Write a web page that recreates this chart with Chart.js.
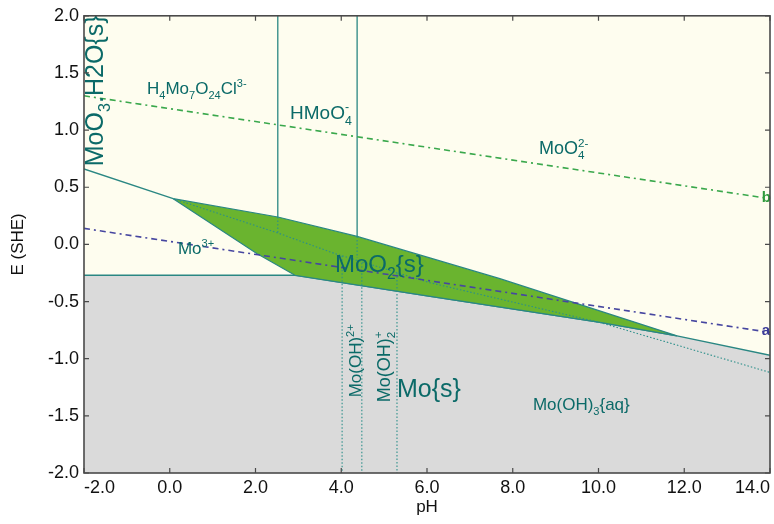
<!DOCTYPE html>
<html>
<head>
<meta charset="utf-8">
<script src="https://cdn.jsdelivr.net/npm/chart.js@4.4.1/dist/chart.umd.min.js"></script>
<style>
  html, body { margin: 0; padding: 0; background: #ffffff; }
  #wrap { width: 774px; height: 524px; }
</style>
</head>
<body>
<div id="wrap"><canvas id="c" width="774" height="524"></canvas></div>
<script>
// ---------- data (pH, E in volts vs SHE) ----------
const xTicks = [-2, 0, 2, 4, 6, 8, 10, 12, 14];
const yTicks = [-2, -1.5, -1, -0.5, 0, 0.5, 1, 1.5, 2];

// Mo{s} region boundary (grey below)
const moSolidPH = [-2.0, 2.92, 6.0, 10.0, 11.83, 14.0];
const moSolidE  = [-0.27, -0.27, -0.45, -0.68, -0.80, -0.97];

// MoO2{s} region (green polygon) upper and lower edges
const moo2UpperPH = [0.08, 2.52, 4.37, 7.70, 11.83];
const moo2UpperE  = [0.40, 0.24, 0.07, -0.30, -0.80];
const moo2LowerPH = [0.08, 2.03, 2.92, 6.0, 10.0, 11.83];
const moo2LowerE  = [0.40, -0.08, -0.27, -0.45, -0.68, -0.80];

// MoO3.H2O{s} / Mo3+ boundary
const leftBoundPH = [-2.0, 0.08];
const leftBoundE  = [0.66, 0.40];

// vertical solid boundaries (H4Mo7O24Cl3- / HMoO4- / MoO4 2-)
const vert1PH = [2.52, 2.52];  const vert1E = [2.0, 0.24];
const vert2PH = [4.37, 4.37];  const vert2E = [2.0, 0.07];

// dotted metastable boundaries
const dotDiagPH = [0.08, 2.52, 3.85, 6.07, 10.04, 14.0];
const dotDiagE  = [0.40, 0.10, -0.08, -0.335, -0.684, -1.12];
const dotV0PH = [2.52, 2.52]; const dotV0E = [0.24, 0.10];
const dotV1PH = [4.37, 4.37]; const dotV1E = [0.07, -0.12];
const dotV2PH = [4.02, 4.02]; const dotV2E = [-0.10, -2.0];
const dotV3PH = [4.48, 4.48]; const dotV3E = [-0.16, -2.0];
const dotV4PH = [5.30, 5.30]; const dotV4E = [-0.25, -2.0];

// water stability lines
const lineBPH = [-2.0, 14.0]; const lineBE = [1.30, 0.40];
const lineAPH = [-2.0, 14.0]; const lineAE = [0.14, -0.77];

// text labels (markup: _{sub} ^{sup})
const labelTexts = [
  'H_{4}Mo_{7}O_{24}Cl^{3-}', 'HMoO_{4}^{-}', 'MoO_{4}^{2-}', 'Mo^{3+}',
  'MoO_{2}{s}', 'Mo{s}', 'Mo(OH)_{3}{aq}', 'Mo(OH)^{2+}', 'Mo(OH)_{2}^{+}',
  'MoO_{3}.H2O{s}', 'b', 'a'
];
const labelPH = [-0.53, 2.805, 8.61, 0.19, 3.854, 5.30, 8.47, 4.46, 5.137, -1.557, 13.81, 13.81];
const labelE  = [1.312, 1.094, 0.789, -0.083, -0.24, -1.338, -1.451, -1.338, -1.381, 0.684, 0.37, -0.797];

// ---------- styling ----------
const TEAL = '#2a8783';
const TEXT_TEAL = '#0b6a68';
const GREEN_FILL = '#6ab42f';
const GREY_FILL = '#dadada';
const CREAM = '#fefdef';
const FAM = '"Liberation Sans", Arial, sans-serif';
const labelStyle = [
  {size:17}, {size:19}, {size:18}, {size:17},
  {size:24}, {size:25}, {size:17}, {size:17, rot:true}, {size:18, rot:true},
  {size:25, rot:true}, {size:15, bold:true, color:'#2f9a3c'}, {size:15, bold:true, color:'#3a3a98'}
];

const zip = (xs, ys) => xs.map((x, i) => ({x: x, y: ys[i]}));

function parseRich(s) {
  const out = []; let i = 0; let buf = '';
  while (i < s.length) {
    const c = s[i];
    if ((c === '_' || c === '^') && s[i + 1] === '{') {
      if (buf) { out.push({t: buf, m: 'n'}); buf = ''; }
      const j = s.indexOf('}', i + 2);
      out.push({t: s.slice(i + 2, j), m: c === '_' ? 'b' : 'p'});
      i = j + 1;
    } else { buf += c; i++; }
  }
  if (buf) out.push({t: buf, m: 'n'});
  return out;
}

function drawRich(ctx, s, x, y, st) {
  const size = st.size;
  const w8 = st.bold ? 'bold ' : '';
  const small = size * 0.65;
  ctx.save();
  ctx.translate(x, y);
  if (st.rot) ctx.rotate(-Math.PI / 2);
  ctx.fillStyle = st.color || TEXT_TEAL;
  ctx.textAlign = 'left';
  ctx.textBaseline = 'alphabetic';
  const segs = parseRich(s);
  let cx = 0;
  for (let k = 0; k < segs.length; k++) {
    const sg = segs[k];
    if (sg.m === 'n') {
      ctx.font = w8 + size + 'px ' + FAM;
      ctx.fillText(sg.t, cx, 0);
      cx += ctx.measureText(sg.t).width;
    } else {
      ctx.font = w8 + small + 'px ' + FAM;
      const off = sg.m === 'b' ? size * 0.28 : -size * 0.42;
      ctx.fillText(sg.t, cx, off);
      let w = ctx.measureText(sg.t).width;
      const nx = segs[k + 1];
      if (sg.m === 'b' && nx && nx.m === 'p') {
        ctx.fillText(nx.t, cx, -size * 0.42);
        w = Math.max(w, ctx.measureText(nx.t).width);
        k++;
      }
      cx += w;
    }
  }
  ctx.restore();
}

const bgPlugin = {
  id: 'bg',
  beforeDatasetsDraw(chart) {
    const {ctx, chartArea: a} = chart;
    ctx.save();
    ctx.fillStyle = CREAM;
    ctx.fillRect(a.left, a.top, a.right - a.left, a.bottom - a.top);
    ctx.restore();
  }
};

const framePlugin = {
  id: 'frame',
  afterDatasetsDraw(chart) {
    const {ctx, chartArea: a, scales} = chart;
    labelTexts.forEach((t, i) => {
      drawRich(ctx, t, scales.x.getPixelForValue(labelPH[i]), scales.y.getPixelForValue(labelE[i]), labelStyle[i]);
    });
    ctx.save();
    ctx.strokeStyle = '#4a4a4a';
    ctx.lineWidth = 1.6;
    ctx.strokeRect(a.left, a.top, a.right - a.left, a.bottom - a.top);
    ctx.lineWidth = 1.2;
    ctx.beginPath();
    const L = 5;
    xTicks.forEach(v => {
      const px = scales.x.getPixelForValue(v);
      ctx.moveTo(px, a.bottom); ctx.lineTo(px, a.bottom - L);
      ctx.moveTo(px, a.top); ctx.lineTo(px, a.top + L);
    });
    yTicks.forEach(v => {
      const py = scales.y.getPixelForValue(v);
      ctx.moveTo(a.left, py); ctx.lineTo(a.left + L, py);
      ctx.moveTo(a.right, py); ctx.lineTo(a.right - L, py);
    });
    ctx.stroke();
    ctx.restore();
  }
};

const base = {showLine: true, pointRadius: 0, pointHoverRadius: 0, fill: false, tension: 0};
const solid = (xs, ys, ord) => Object.assign({}, base, {data: zip(xs, ys), borderColor: TEAL, borderWidth: 1.3, order: ord});
const dotted = (xs, ys) => Object.assign({}, base, {data: zip(xs, ys), borderColor: '#2b8f8a', borderWidth: 1.1, borderDash: [1.5, 2], order: 3});

const datasets = [
  Object.assign({}, base, {data: zip(moSolidPH, moSolidE), borderColor: TEAL, borderWidth: 1.3,
    fill: 'start', backgroundColor: GREY_FILL, order: 20}),
  Object.assign({}, base, {data: zip(moo2UpperPH.concat(moo2LowerPH.slice().reverse()), moo2UpperE.concat(moo2LowerE.slice().reverse())),
    borderColor: TEAL, borderWidth: 1.2, fill: 'shape', backgroundColor: GREEN_FILL, order: 19}),
  solid(leftBoundPH, leftBoundE, 5),
  solid(vert1PH, vert1E, 5),
  solid(vert2PH, vert2E, 5),
  dotted(dotDiagPH, dotDiagE),
  dotted(dotV0PH, dotV0E),
  dotted(dotV1PH, dotV1E),
  dotted(dotV2PH, dotV2E),
  dotted(dotV3PH, dotV3E),
  dotted(dotV4PH, dotV4E),
  Object.assign({}, base, {data: zip(lineBPH, lineBE), borderColor: '#3aa84c', borderWidth: 1.6, borderDash: [6, 4, 2, 4, 6, 4], order: 1}),
  Object.assign({}, base, {data: zip(lineAPH, lineAE), borderColor: '#4646a0', borderWidth: 1.6, borderDash: [6, 4, 2, 4, 6, 4], order: 1})
];

const tickFont = {family: FAM, size: 18};

new Chart(document.getElementById('c'), {
  type: 'scatter',
  data: {datasets: datasets},
  plugins: [bgPlugin, framePlugin],
  options: {
    responsive: false,
    animation: false,
    events: [],
    layout: {padding: {top: 14, right: 4, left: 0, bottom: 0}},
    plugins: {legend: {display: false}, tooltip: {enabled: false}},
    scales: {
      x: {
        type: 'linear', min: -2, max: 14,
        afterBuildTicks: s => { s.ticks = xTicks.map(v => ({value: v})); },
        ticks: {color: '#111', font: tickFont, padding: 4, maxRotation: 0, autoSkip: false, align: 'inner',
          callback: v => v.toFixed(1)},
        grid: {display: false, drawTicks: false},
        border: {display: false},
        title: {display: true, text: 'pH', color: '#111', font: {family: FAM, size: 17}, padding: {top: 0, bottom: 6}},
        afterFit: s => { s.height = 51; s.paddingLeft = 0; s.paddingRight = 0; }
      },
      y: {
        type: 'linear', min: -2, max: 2,
        afterBuildTicks: s => { s.ticks = yTicks.map(v => ({value: v})); },
        ticks: {color: '#111', font: tickFont, padding: 5, autoSkip: false,
          callback: v => v.toFixed(1)},
        grid: {display: false, drawTicks: false},
        border: {display: false},
        title: {display: true, text: 'E (SHE)', color: '#111', font: {family: FAM, size: 17}, padding: {top: 8, bottom: 0}},
        afterFit: s => { s.width = 84; }
      }
    }
  }
});
</script>
</body>
</html>
